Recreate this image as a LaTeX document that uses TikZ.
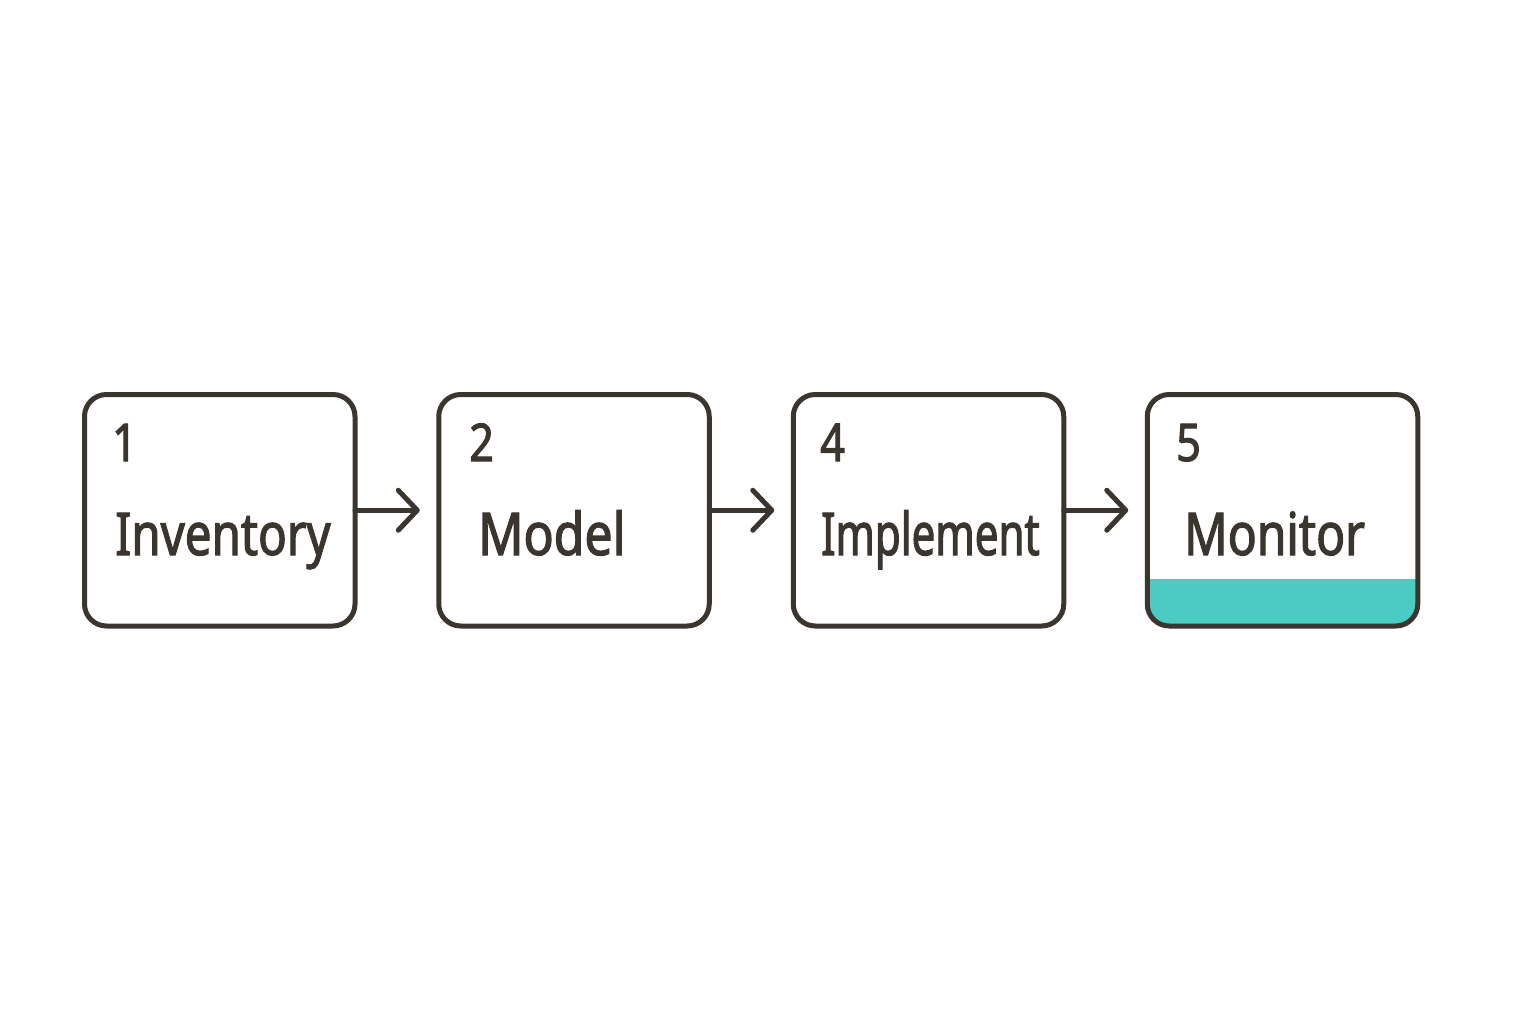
\documentclass[tikz,border=0pt]{standalone}
\usepackage{fontspec}
\setmainfont{Noto Sans}
\newfontfamily\labfont[FakeStretch=0.83,FakeBold=2]{Noto Sans}
\usetikzlibrary{arrows.meta}
\definecolor{ink}{HTML}{3A362F}
\definecolor{tealband}{HTML}{4ACCC4}
\tikzset{
  box/.style={draw=ink, line width=5pt, rounded corners=22pt, minimum width=270.5pt, minimum height=231.5pt, inner sep=0pt, outer sep=0pt},
  numtxt/.style={anchor=base west, inner sep=0pt, text=ink, font=\labfont\fontsize{52}{54}\selectfont},
  labtxt/.style={anchor=base west, inner sep=0pt, text=ink, font=\labfont\fontsize{59}{61}\selectfont},
  conn/.style={draw=ink, line width=5pt, line cap=round, shorten >=19pt, -{Straight Barb[length=19pt,width=40pt,line cap=round,line join=round]}}
}
\begin{document}
\begin{tikzpicture}[x=1pt,y=-1pt]
\useasboundingbox (0,0) rectangle (1536,1024);
% teal band in box 4
\begin{scope}
  \clip[rounded corners=22pt] (1147.5,394.5) rectangle (1417.5,626);
  \fill[tealband] (1147.5,579) rectangle (1417.5,626);
\end{scope}
\node[box] (b1) at (219.75,510.25) {};
\node[box] (b2) at (574,510.25) {};
\node[box] (b3) at (928.5,510.25) {};
\node[box] (b4) at (1282.5,510.25) {};
\node[numtxt] (n1) at (112,461) {1};
\node[numtxt] (n2) at (469,461) {2};
\node[numtxt] (n3) at (820,461) {4};
\node[numtxt] (n4) at (1176,461) {5};
\node[labtxt] (l1) at (115,555) {\scalebox{0.97}[1]{Inventory}};
\node[labtxt] (l2) at (478,555) {\scalebox{1.02}[1]{Model}};
\node[labtxt] (l3) at (821,555) {\scalebox{0.86}[1]{Implement}};
\node[labtxt] (l4) at (1184,555) {\scalebox{0.98}[1]{Monitor}};
\draw[conn] (b1.east) -- (b2.west);
\draw[conn] (b2.east) -- (b3.west);
\draw[conn] (b3.east) -- (b4.west);
\end{tikzpicture}
\end{document}
